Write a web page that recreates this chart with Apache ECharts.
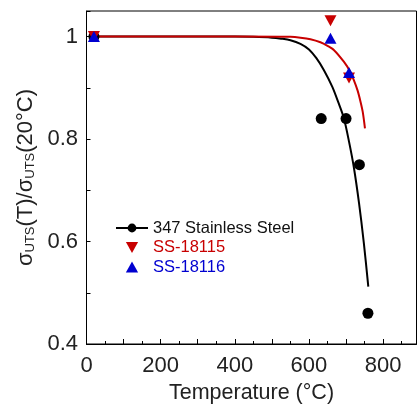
<!DOCTYPE html>
<html><head><meta charset="utf-8">
<script src="https://cdn.jsdelivr.net/npm/echarts@6/dist/echarts.min.js"></script>
<style>html,body{margin:0;padding:0;background:#fff}#c{width:417px;height:404px}</style>
</head><body><div id="c"></div>
<script>
// Measured points
const ss347Points = [[20,1.0],[633,0.84],[700,0.84],[736,0.75],[759,0.46]];
const ss18115Points = [[20,1.0],[658,1.031],[708,0.919]];
const ss18116Points = [[20,1.0],[658,0.997],[708,0.93]];
// Fit curves
const ss347Fit = [[20,1.0],[200,1.0],[400,1.0],[450,0.9995],[500,0.998],[525,0.996],[550,0.993],[577,0.986],[600,0.975],[620,0.958],[640,0.935],[663,0.902],[680,0.870],[694,0.841],[708,0.795],[721,0.745],[735,0.675],[748,0.597],[760,0.512]];
const ss18115Fit = [[20,1.0],[200,1.0],[400,1.0],[550,0.9995],[577,0.998],[604,0.995],[631,0.989],[650,0.982],[667,0.974],[694,0.951],[710,0.933],[721,0.915],[731,0.895],[739,0.873],[745,0.853],[751,0.821]];
const names = ['347 Stainless Steel','SS-18115','SS-18116'];
const xTicks = [0,200,400,600,800];
const yTicks = [0.4,0.6,0.8,1];

const RED='#c80000', BLUE='#0000d0';
const triDown='path://M0,0L10,0L5,9Z', triUp='path://M5,0L10,9L0,9Z';
const font='Liberation Sans';
const chart = echarts.init(document.getElementById('c'));
chart.setOption({
  animation:false,
  grid:{left:86.5,right:0.5,top:11,bottom:60,show:true,borderColor:'#000',borderWidth:1,outerBoundsMode:'none',containLabel:false},
  xAxis:{type:'value',min:0,max:890,interval:100,
    axisLine:{lineStyle:{color:'#000',width:1}},
    axisTick:{inside:true,length:5,lineStyle:{color:'#000'}},
    minorTick:{show:true,splitNumber:2,length:3,lineStyle:{color:'#000'}},
    splitLine:{show:false},
    axisLabel:{margin:11,fontFamily:font,fontSize:22,color:'#222',showMaxLabel:false,
      formatter:v=>xTicks.includes(v)?String(v):''},
    name:'Temperature (°C)',nameLocation:'middle',nameGap:37,
    nameTextStyle:{fontFamily:font,fontSize:21.5,color:'#222'}},
  yAxis:{type:'value',min:0.4,max:1.05,interval:0.1,
    axisLine:{show:true,lineStyle:{color:'#000',width:1}},
    axisTick:{inside:true,length:4,lineStyle:{color:'#000'}},
    splitLine:{show:false},
    axisLabel:{margin:8.5,fontFamily:font,fontSize:22,color:'#222',
      formatter:v=>{const r=Math.round(v*10)/10;return yTicks.includes(r)?String(r):'';}},
    name:'{m|σ}{s|UTS}{m|(T)/σ}{s|UTS}{m|(20°C)}',nameLocation:'middle',nameRotate:90,nameGap:44,
    nameTextStyle:{fontFamily:font,color:'#222',
      rich:{m:{fontFamily:font,fontSize:22,lineHeight:22,verticalAlign:'top',color:'#222'},
            s:{fontFamily:font,fontSize:13,lineHeight:13,verticalAlign:'bottom',padding:[21,0,0,0],color:'#222'}}}},
  legend:{orient:'vertical',left:115,top:219.5,padding:0,itemWidth:32,itemHeight:11,itemGap:2.5,
    textStyle:{fontFamily:font,fontSize:16.5,lineHeight:17},
    data:[{name:names[0],textStyle:{color:'#111'}},
          {name:names[1],icon:triDown,textStyle:{color:RED}},
          {name:names[2],icon:triUp,textStyle:{color:BLUE}}]},
  series:[
    {name:names[0],type:'line',data:ss347Fit,smooth:0.3,showSymbol:false,symbol:'circle',symbolSize:11,
      lineStyle:{color:'#000',width:2},itemStyle:{color:'#000'},z:2},
    {name:'fit18115',type:'line',data:ss18115Fit,smooth:0.3,showSymbol:false,symbol:'none',
      lineStyle:{color:RED,width:2},itemStyle:{color:RED},z:3},
    {name:names[0],type:'scatter',data:ss347Points,symbol:'circle',symbolSize:11,itemStyle:{color:'#000',opacity:1},z:4},
    {name:names[1],type:'scatter',data:ss18115Points,symbol:triDown,symbolSize:[12,11],itemStyle:{color:RED,opacity:1},z:5},
    {name:names[2],type:'scatter',data:ss18116Points,symbol:triUp,symbolSize:[12,11],itemStyle:{color:BLUE,opacity:1},z:6}
  ]
});
</script></body></html>
